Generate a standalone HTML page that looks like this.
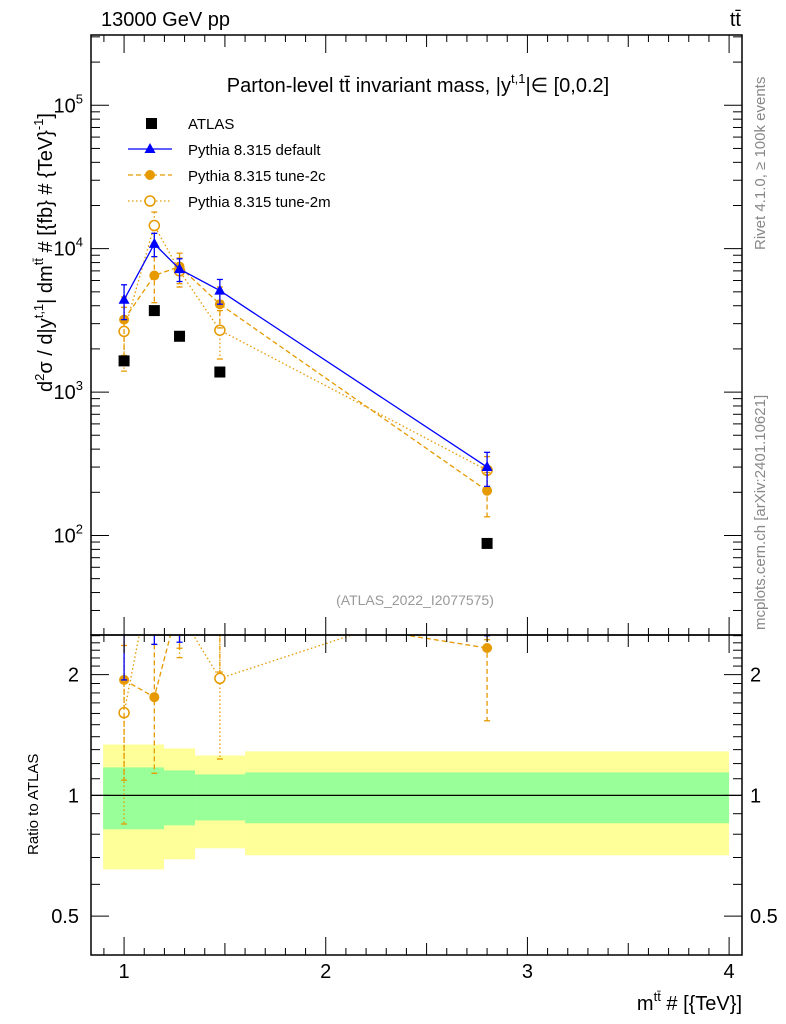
<!DOCTYPE html>
<html><head><meta charset="utf-8">
<style>
html,body{margin:0;padding:0;background:#fff;}
svg{display:block;font-family:"Liberation Sans",Arial,sans-serif;}
</style></head>
<body>
<svg id="chart" width="786" height="1024" viewBox="0 0 786 1024" xmlns="http://www.w3.org/2000/svg">
<g id="bands"></g>
<g id="mainplot"></g>
<g id="ratioplot"></g>
<g id="axes"></g>
<text x="101" y="26" font-size="20">13000 GeV pp</text>
<text x="741" y="26" font-size="20" text-anchor="end">tt̄</text>
<text x="418" y="92" font-size="20" text-anchor="middle">Parton-level tt̄ invariant mass, |y<tspan dy="-9" font-size="13">t,1</tspan><tspan dy="9">|∈ [0,0.2]</tspan></text>
<text x="415" y="605" font-size="14" fill="#999" text-anchor="middle">(ATLAS_2022_I2077575)</text>
<text transform="translate(765,250) rotate(-90)" font-size="15" fill="#888">Rivet 4.1.0, ≥ 100k events</text>
<text transform="translate(765,630) rotate(-90)" font-size="15" fill="#888">mcplots.cern.ch [arXiv:2401.10621]</text>
<text transform="translate(52,392) rotate(-90)" font-size="20">d<tspan dy="-8" font-size="13">2</tspan><tspan dy="8">σ / d|y</tspan><tspan dy="-9" font-size="13">t,1</tspan><tspan dy="9">| dm</tspan><tspan dy="-9" font-size="13">tt̄</tspan><tspan dy="9"> # [{fb} # {TeV}</tspan><tspan dy="-9" font-size="13">-1</tspan><tspan dy="9">]</tspan></text>
<text transform="translate(38,855) rotate(-90)" font-size="15">Ratio to ATLAS</text>
<text x="742" y="1010" font-size="20" text-anchor="end">m<tspan dy="-9" font-size="13">tt̄</tspan><tspan dy="9"> # [{TeV}]</tspan></text>
<g font-size="15">
  <rect x="146" y="118" width="11" height="11" fill="#000"/>
  <text x="188" y="129">ATLAS</text>
  <line x1="128" y1="149" x2="172" y2="149" stroke="#00f" stroke-width="1.3"/>
  <polygon points="150,143 155.5,153 144.5,153" fill="#00f"/>
  <text x="188" y="155">Pythia 8.315 default</text>
  <line x1="128" y1="175" x2="172" y2="175" stroke="#e69a00" stroke-width="1.3" stroke-dasharray="5,3"/>
  <circle cx="150" cy="175" r="5" fill="#e69a00"/>
  <text x="188" y="181">Pythia 8.315 tune-2c</text>
  <line x1="128" y1="201" x2="172" y2="201" stroke="#e69a00" stroke-width="1.3" stroke-dasharray="1.5,2.5"/>
  <circle cx="150" cy="201" r="5" fill="#fff" stroke="#e69a00" stroke-width="1.5"/>
  <text x="188" y="207">Pythia 8.315 tune-2m</text>
</g>
</svg>
<script>
const xVals=[1.0,1.15,1.275,1.475,2.8];
const atlas=[1650,3700,2450,1380,88];
const pyDefault=[4400,10800,7200,5100,300];
const pyDefaultErr=[1200,2000,1300,1000,80];
const py2c=[3200,6500,7500,4100,205];
const py2cErr=[1400,2300,1800,1300,70];
const py2m=[2650,14500,7000,2700,285];
const py2mErr=[1250,3500,1600,1000,70];
const binEdges=[0.896,1.198,1.352,1.6,4.0];
const yellowUp=[1.339,1.309,1.257,1.287];
const yellowDn=[0.654,0.693,0.738,0.709];
const greenUp=[1.174,1.154,1.128,1.141];
const greenDn=[0.823,0.842,0.866,0.852];
const xTicks=[1,2,3,4];
const yTicks=[100,1000,10000,100000];
const yTickLabels=["2","3","4","5"];
const rTicks=[0.5,1,2];

const NS="http://www.w3.org/2000/svg";
const L=91,R=742,T=35,MB=635,RB=955;
const X=v=>L+(v-0.836)/(4.064-0.836)*(R-L);
const Y=v=>T+(5.49-Math.log10(v))/(5.49-1.306)*(MB-T);
const RY=v=>MB+(Math.log2(2.51)-Math.log2(v))/(Math.log2(2.51)-Math.log2(0.40))*(RB-MB);
function mk(p,tag,a){const e=document.createElementNS(NS,tag);for(const k in a)e.setAttribute(k,a[k]);p.appendChild(e);return e;}
const bands=document.getElementById('bands'),mainG=document.getElementById('mainplot'),ratioG=document.getElementById('ratioplot'),axes=document.getElementById('axes');

for(let i=0;i<binEdges.length-1;i++){
  const x1=X(binEdges[i]),x2=X(binEdges[i+1]);
  const y=mk(bands,'rect',{x:x1,y:RY(yellowUp[i]),width:x2-x1,height:RY(yellowDn[i])-RY(yellowUp[i]),fill:'#ffff99'});
  
  
  const g=mk(bands,'rect',{x:x1,y:RY(greenUp[i]),width:x2-x1,height:RY(greenDn[i])-RY(greenUp[i]),fill:'#99ff99'});
  
  
}
mk(bands,'line',{x1:L,x2:R,y1:RY(1),y2:RY(1),stroke:'#000','stroke-width':1.3});

const defs=mk(document.getElementById('chart'),'defs',{});
const clipM=mk(defs,'clipPath',{id:'cm'});mk(clipM,'rect',{x:L,y:T,width:R-L,height:MB-T});
const clipR=mk(defs,'clipPath',{id:'cr'});mk(clipR,'rect',{x:L,y:MB,width:R-L,height:RB-MB});

function series(parent,vals,err,yf,color,dash,marker,name,clip){
  const g=mk(parent,'g',{'clip-path':'url(#'+clip+')'});
  
  
  const pts=vals.map((v,i)=>X(xVals[i])+','+yf(v)).join(' ');
  mk(g,'polyline',{points:pts,fill:'none',stroke:color,'stroke-width':1.3,'stroke-dasharray':dash||'none'});
  vals.forEach((v,i)=>{
    const x=X(xVals[i]),y=yf(v);
    if(err){const hi=yf(v+err[i]),lo=yf(Math.max(v-err[i],1e-3));
      mk(g,'line',{x1:x,x2:x,y1:hi,y2:lo,stroke:color,'stroke-width':1.3,'stroke-dasharray':dash||'none'});
      mk(g,'line',{x1:x-3,x2:x+3,y1:hi,y2:hi,stroke:color,'stroke-width':1.3});
      mk(g,'line',{x1:x-3,x2:x+3,y1:lo,y2:lo,stroke:color,'stroke-width':1.3});}
    let m;
    if(marker==='tri')m=mk(g,'polygon',{points:(x)+','+(y-6)+' '+(x+5.5)+','+(y+4)+' '+(x-5.5)+','+(y+4),fill:color});
    else if(marker==='dot')m=mk(g,'circle',{cx:x,cy:y,r:5,fill:color});
    else m=mk(g,'circle',{cx:x,cy:y,r:5,fill:'#fff',stroke:color,'stroke-width':1.5});
    
    
  });
}
series(mainG,py2m,py2mErr,Y,'#e69a00','1.5,2.5','open','tune-2m','cm');
series(mainG,py2c,py2cErr,Y,'#e69a00','5,3','dot','tune-2c','cm');
series(mainG,pyDefault,pyDefaultErr,Y,'#0000ff','','tri','default','cm');
atlas.forEach((v,i)=>{
  const r=mk(mainG,'rect',{x:X(xVals[i])-5.5,y:Y(v)-5.5,width:11,height:11,fill:'#000'});
  
  
});
const rat=a=>a.map((v,i)=>v/atlas[i]);
const ratErr=e=>e.map((v,i)=>v/atlas[i]);
series(ratioG,rat(py2m),ratErr(py2mErr),RY,'#e69a00','1.5,2.5','open','ratio-tune-2m','cr');
series(ratioG,rat(py2c),ratErr(py2cErr),RY,'#e69a00','5,3','dot','ratio-tune-2c','cr');
series(ratioG,rat(pyDefault),ratErr(pyDefaultErr),RY,'#0000ff','','tri','ratio-default','cr');

mk(axes,'rect',{x:L,y:T,width:R-L,height:MB-T,fill:'none',stroke:'#000','stroke-width':1.5});
mk(axes,'rect',{x:L,y:MB,width:R-L,height:RB-MB,fill:'none',stroke:'#000','stroke-width':1.5});
for(let d=1;d<=5;d++)for(let k=1;k<10;k++){
  const v=k*Math.pow(10,d);const y=Y(v);if(y<T||y>MB)continue;
  const len=k===1?18:9;
  mk(axes,'line',{x1:L,x2:L+len,y1:y,y2:y,stroke:'#000'});
  mk(axes,'line',{x1:R,x2:R-len,y1:y,y2:y,stroke:'#000'});
}
yTicks.forEach((v,i)=>{
  const t=mk(axes,'text',{x:L-8,y:Y(v)+7,'font-size':20,'text-anchor':'end'});
  t.textContent='10';
  const ts=mk(t,'tspan',{dy:-9,'font-size':13});ts.textContent=yTickLabels[i];
  
  
});
[0.5,0.6,0.7,0.8,0.9,1,1.1,1.2,1.3,1.4,1.5,1.6,1.7,1.8,1.9,2,2.1,2.2,2.3,2.4,2.5].forEach(v=>{
  const y=RY(v);if(y<MB||y>RB)return;const len=(v===0.5||v===1||v===2)?18:9;
  mk(axes,'line',{x1:L,x2:L+len,y1:y,y2:y,stroke:'#000'});
  mk(axes,'line',{x1:R,x2:R-len,y1:y,y2:y,stroke:'#000'});
});
rTicks.forEach(v=>{
  const a=mk(axes,'text',{x:L-12,y:RY(v)+7,'font-size':20,'text-anchor':'end'});a.textContent=String(v);
  
  
  const b=mk(axes,'text',{x:R+8,y:RY(v)+7,'font-size':20});b.textContent=String(v);
  
  
});
for(let n=9;n<=40;n++){
  const vv=n/10;const x=X(vv);const major=n%10===0;
  const len=major?18:(n%5===0?12:7);
  [MB,RB].forEach(b=>{mk(axes,'line',{x1:x,x2:x,y1:b,y2:b-len,stroke:'#000'});});
  [T,MB].forEach(b=>{mk(axes,'line',{x1:x,x2:x,y1:b,y2:b+len,stroke:'#000'});});
}
xTicks.forEach(v=>{
  const t=mk(axes,'text',{x:X(v),y:978,'font-size':20,'text-anchor':'middle'});t.textContent=String(v);
  
  
});
</script>
</body></html>
